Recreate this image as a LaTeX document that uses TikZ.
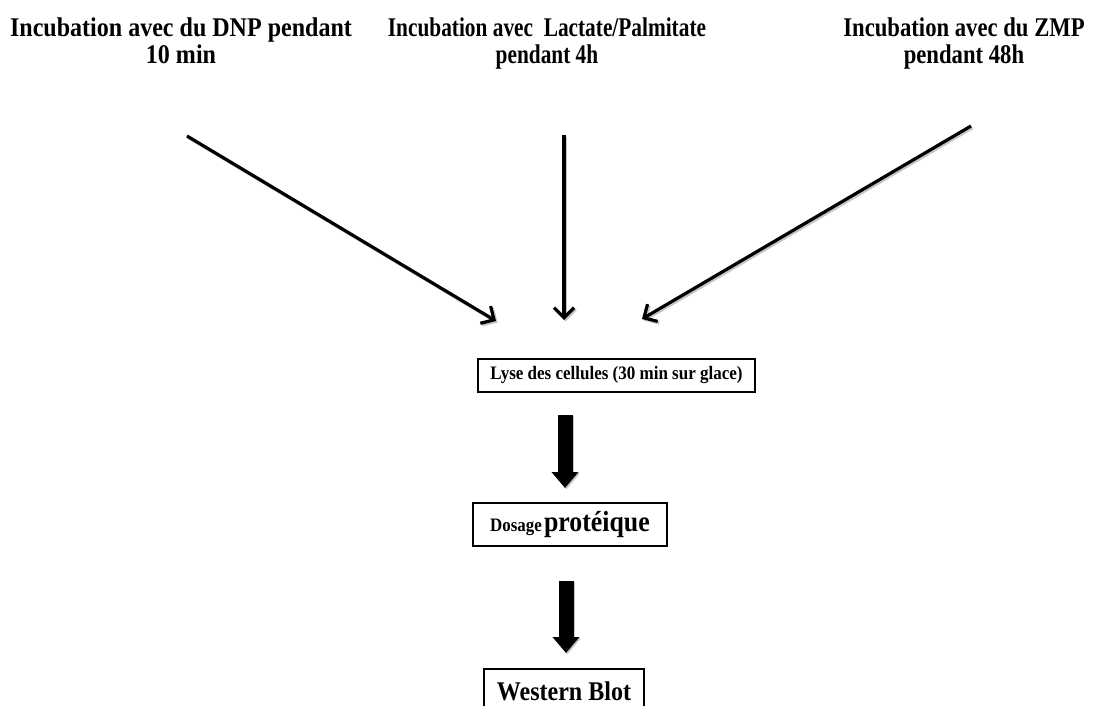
\documentclass[tikz,border=0pt]{standalone}
\usepackage{fontspec}
\setmainfont{Liberation Serif}
\usetikzlibrary{arrows.meta}
\newcommand\squeezed[2]{\scalebox{#1}[1]{\begin{tabular}[t]{@{}c@{}}#2\end{tabular}}}
\tikzset{
  toplabel/.style={inner sep=0pt, anchor=base,
    font=\fontsize{27}{25}\selectfont\bfseries},
  stepbox/.style={draw=black, line width=1.8pt, fill=white, inner sep=0pt,
    font=\bfseries},
  thinarrow/.style={line width=3.2pt, black,
    -{Straight Barb[length=10pt,width=20pt,line width=3.2pt]},
    preaction={draw=gray!45, line width=3.2pt, transform canvas={shift={(1.6pt,-1.6pt)}},
      -{Straight Barb[length=10pt,width=20pt,line width=3.2pt]}}},
  thickarrow/.style={line width=15pt, black,
    -{Triangle[length=16pt,width=26pt]},
    preaction={draw=gray!45, line width=15pt, transform canvas={shift={(1.4pt,-1.4pt)}},
      -{Triangle[length=16pt,width=26pt]}}}
}
\begin{document}
\begin{tikzpicture}[x=1pt,y=-1pt]
\useasboundingbox (0,0) rectangle (1096,706);
\clip (0,0) rectangle (1096,706);

\node[toplabel] (dnp) at (181,37) {\squeezed{0.89}{Incubation avec du DNP pendant\\10 min}};
\node[toplabel] (lac) at (547,37) {\squeezed{0.79}{Incubation avec\ \ Lactate/Palmitate\\pendant 4h}};
\node[toplabel] (zmp) at (964,37) {\squeezed{0.84}{Incubation avec du ZMP\\pendant 48h}};

\coordinate (s1) at (187,136);
\coordinate (e1) at (496,321);
\coordinate (s2) at (564,135);
\coordinate (e2) at (564,320);
\coordinate (s3) at (971,126);
\coordinate (e3) at (642,319);

\draw[thinarrow] (s1) -- (e1);
\draw[thinarrow] (s2) -- (e2);
\draw[thinarrow] (s3) -- (e3);

\node[stepbox, minimum width=277pt, minimum height=33pt,
  font=\fontsize{19}{20}\selectfont\bfseries] (lyse) at (616.5,375.5)
  {\scalebox{0.895}[1]{Lyse des cellules (30 min sur glace)}};
\node[stepbox, minimum width=194pt, minimum height=43pt] (dos) at (570,524.5)
  {\scalebox{0.89}[1]{{\fontsize{19}{20}\selectfont Dosage} {\fontsize{29}{30}\selectfont protéique}}};
\node[stepbox, minimum width=160pt, minimum height=44pt,
  font=\fontsize{27}{28}\selectfont\bfseries] (wb) at (564,691)
  {\scalebox{0.89}[1]{Western Blot}};

\coordinate (t1s) at (565,415);
\coordinate (t1e) at (565,488);
\coordinate (t2s) at (566,581);
\coordinate (t2e) at (566,653);
\draw[thickarrow] (t1s) -- (t1e);
\draw[thickarrow] (t2s) -- (t2e);
\end{tikzpicture}
\end{document}
